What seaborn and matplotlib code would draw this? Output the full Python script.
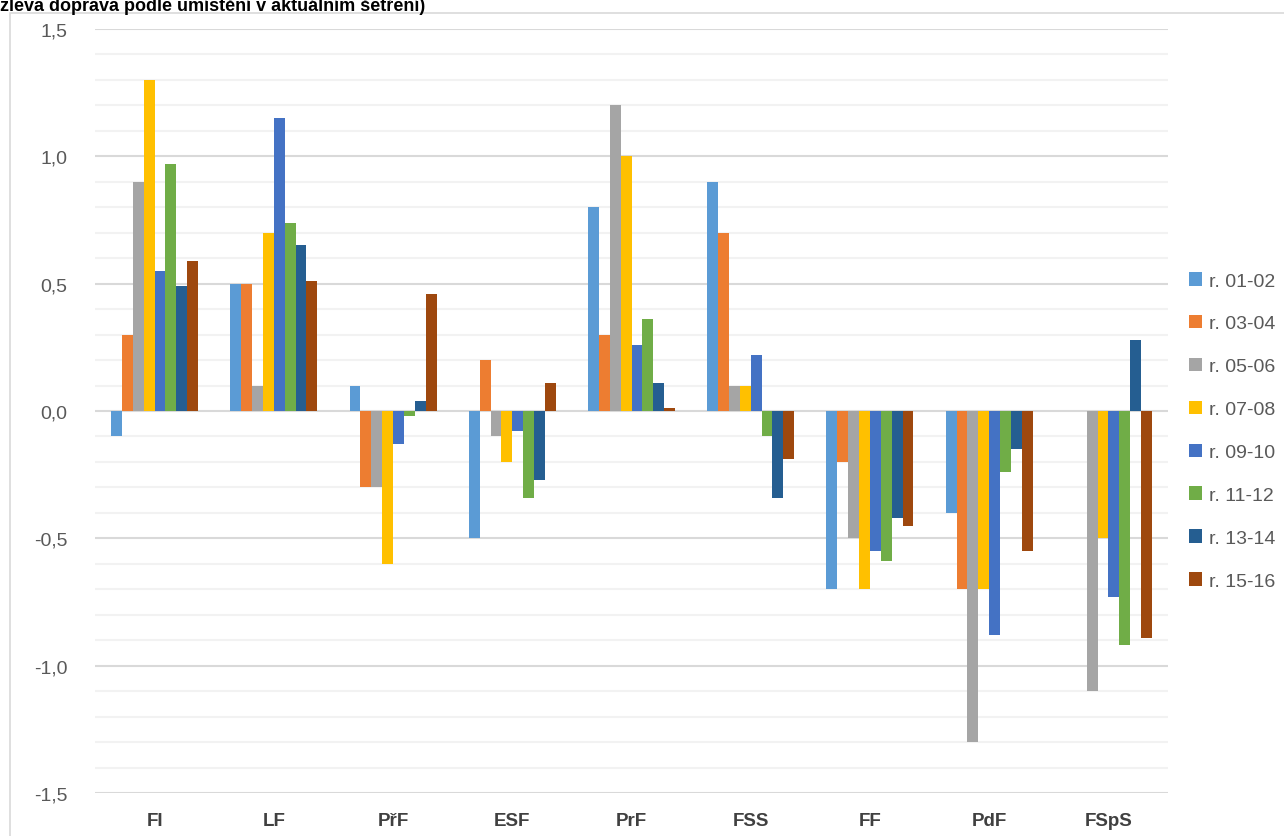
import pandas as pd
import numpy as np
import matplotlib
matplotlib.use('Agg')
import matplotlib.pyplot as plt
import seaborn as sns
from matplotlib.patches import Rectangle, Patch
from matplotlib.ticker import MultipleLocator, FuncFormatter

# Fakulty (pořadí na ose x)
fakulty = ['FI', 'LF', 'PřF', 'ESF', 'PrF', 'FSS', 'FF', 'PdF', 'FSpS']

# Ročníky šetření
rocniky = ['r. 01-02', 'r. 03-04', 'r. 05-06', 'r. 07-08',
           'r. 09-10', 'r. 11-12', 'r. 13-14', 'r. 15-16']

# Hodnoty podle ročníků (jedna hodnota pro každou fakultu)
r_01_02 = [-0.10, 0.50, 0.10, -0.50, 0.80, 0.90, -0.70, -0.40, np.nan]
r_03_04 = [0.30, 0.50, -0.30, 0.20, 0.30, 0.70, -0.20, -0.70, np.nan]
r_05_06 = [0.90, 0.10, -0.30, -0.10, 1.20, 0.10, -0.50, -1.30, -1.10]
r_07_08 = [1.30, 0.70, -0.60, -0.20, 1.00, 0.10, -0.70, -0.70, -0.50]
r_09_10 = [0.55, 1.15, -0.13, -0.08, 0.26, 0.22, -0.55, -0.88, -0.73]
r_11_12 = [0.97, 0.74, -0.02, -0.34, 0.36, -0.10, -0.59, -0.24, -0.92]
r_13_14 = [0.49, 0.65, 0.04, -0.27, 0.11, -0.34, -0.42, -0.15, 0.28]
r_15_16 = [0.59, 0.51, 0.46, 0.11, 0.01, -0.19, -0.45, -0.55, -0.89]

barvy = ['#5B9BD5', '#ED7D31', '#A5A5A5', '#FFC000',
         '#4472C4', '#70AD47', '#255E91', '#9E480E']

serie = [r_01_02, r_03_04, r_05_06, r_07_08, r_09_10, r_11_12, r_13_14, r_15_16]
data = pd.DataFrame({
    'fakulta': fakulty * len(rocniky),
    'rocnik': [r for r in rocniky for _ in fakulty],
    'hodnota': [v for s in serie for v in s],
})

sns.set_style('white')
plt.rcParams['font.family'] = ['Liberation Sans', 'DejaVu Sans']

fig = plt.figure(figsize=(12.84, 8.37), dpi=100)
ax = fig.add_axes([95 / 1284, 1 - 794 / 837, (1168 - 95) / 1284, (794 - 30) / 837])

# rámeček grafu
fig.patches.append(Rectangle((10 / 1284, -0.05), 1.1, 1 - 14 / 837 + 0.05,
                             transform=fig.transFigure, fill=False,
                             edgecolor='#d9d9d9', linewidth=1.2, zorder=0))

sns.barplot(data=data, x='fakulta', y='hodnota', hue='rocnik',
            order=fakulty, hue_order=rocniky, palette=barvy, saturation=1,
            width=0.73, linewidth=0, errorbar=None, legend=False, ax=ax)

ax.set_ylim(-1.5, 1.5)
ax.yaxis.set_major_locator(MultipleLocator(0.5))
ax.yaxis.set_minor_locator(MultipleLocator(0.1))
ax.yaxis.set_major_formatter(FuncFormatter(lambda v, p: f'{v:.1f}'.replace('.', ',')))
ax.grid(which='major', axis='y', color='#d9d9d9', linewidth=1.5, zorder=0)
ax.grid(which='minor', axis='y', color='#f2f2f2', linewidth=1.5, zorder=0)
ax.set_axisbelow(True)
for s in ax.spines.values():
    s.set_visible(False)
ax.tick_params(axis='y', which='both', length=0, labelsize=14, labelcolor='#595959', pad=20)
ax.tick_params(axis='x', length=0, labelsize=13.5, labelcolor='#404040', pad=14)
for t in ax.get_xticklabels():
    t.set_fontweight('bold')
ax.set_xlabel('')
ax.set_ylabel('')

handles = [Patch(facecolor=c, edgecolor='none') for c in barvy]
ax.legend(handles, rocniky, loc='center left', bbox_to_anchor=(1.012, 0.474),
          frameon=False, fontsize=14, labelcolor='#595959', labelspacing=1.3,
          handlelength=0.7, handleheight=0.7, handletextpad=0.35, borderaxespad=0)

fig.text(0.0, 1 - 11 / 837, 'zleva doprava podle umístění v aktuálním šetření)',
         fontsize=13, fontweight='bold', color='#000000', ha='left', va='baseline')

fig.savefig('out.png', dpi=100)
